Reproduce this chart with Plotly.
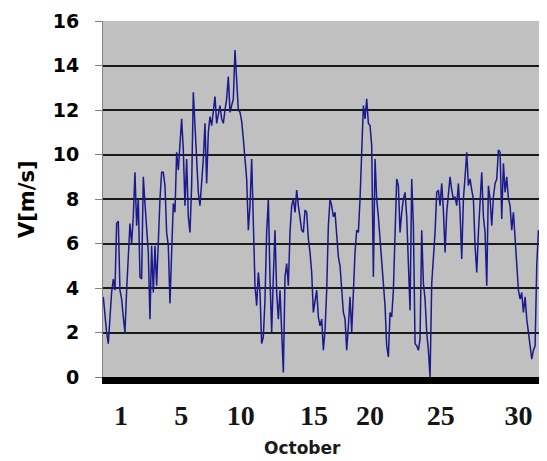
import numpy as np
import plotly.graph_objects as go

# Wind speed readings (m/s), roughly every 2.8 hours through October
speed = [
    3.6, 2.6, 2.0, 1.5, 2.6, 3.8, 4.4, 3.9, 6.9, 7.0,
    3.9, 3.5, 2.7, 2.0, 3.9, 5.3, 6.9, 6.0, 7.2, 9.2,
    6.8, 8.0, 4.5, 4.4, 9.0, 7.8, 6.8, 5.6, 2.6, 5.9,
    3.8, 5.9, 4.1, 6.5, 8.0, 9.2, 9.2, 8.6, 6.5, 5.9,
    3.3, 5.6, 7.8, 7.4, 10.1, 9.3, 10.7, 11.6, 10.2, 7.7,
    9.8, 7.2, 6.5, 8.6, 12.8, 11.3, 9.9, 8.3, 7.7, 8.6,
    9.8, 11.4, 8.7, 11.0, 11.7, 11.3, 12.0, 12.6, 11.4, 11.9,
    12.2, 11.6, 11.4, 12.0, 12.5, 13.5, 11.9, 12.2, 12.5, 14.7,
    13.1, 12.0, 11.9, 11.5,
    10.7, 9.8, 8.9, 6.6, 7.7, 9.8, 6.5, 4.1, 3.2, 4.7,
    3.8, 1.5, 1.8, 3.5, 6.5, 8.0, 4.4, 2.0, 4.5, 6.6,
    3.8, 2.6, 3.9, 2.0, 0.2, 4.5, 5.1, 4.1, 6.5, 7.7,
    8.0, 7.4, 8.4, 7.7, 7.2, 6.6, 6.5, 7.5, 7.4, 6.2,
    5.6, 4.7, 2.9, 3.5, 3.9, 2.7, 2.3, 2.6, 1.2, 2.1,
    3.9, 6.8, 8.0, 7.7, 7.2, 7.4, 6.5, 5.4, 5.0, 4.1,
    2.9, 2.6, 1.2, 2.3, 3.6, 2.0, 4.2, 5.6, 6.6, 6.5,
    8.0, 10.5, 12.2, 11.6, 12.5, 11.4, 11.3, 10.4, 4.5, 9.8,
    8.0, 7.2, 6.2, 5.1, 3.8, 3.2, 1.4, 0.9, 2.9, 2.7,
    3.9, 6.0, 8.9, 8.6, 6.5,
    7.4, 8.0, 8.3, 7.2, 5.1, 3.0, 8.9, 6.8, 1.5, 1.4,
    1.2, 1.7, 6.6, 4.2, 3.5, 2.0, 1.2, 0.0, 4.2, 5.3,
    6.5, 8.3, 8.4, 7.7, 8.7, 7.5, 5.6, 7.4, 8.1, 9.0,
    8.4, 8.0, 8.1, 7.7, 8.7, 7.4, 5.3, 8.0, 9.0, 10.1,
    8.6, 8.9, 8.4, 8.0, 5.9, 4.7, 6.5, 8.0, 9.2, 7.2,
    6.5, 4.1, 8.6, 8.0, 6.8, 8.1, 8.7, 8.9, 10.2, 10.1,
    7.1, 9.6, 8.3, 9.0, 8.0, 7.7, 6.6, 7.4, 6.2, 5.3,
    3.9, 3.5, 3.8, 2.9, 3.6, 2.6, 2.0, 1.5, 0.8, 1.2,
    1.4, 5.0, 6.6,
]
step_hours = 2.8
days = 1 + np.arange(len(speed)) * step_hours / 24.0

x_tick_labels = ["1", "5", "10", "15", "20", "25", "30"]
x_tick_days = [2.24, 6.45, 10.62, 15.75, 19.66, 24.62, 30.05]
y_ticks = [0, 2, 4, 6, 8, 10, 12, 14, 16]

fig = go.Figure()
fig.add_trace(go.Scatter(
    x=days, y=speed, mode="lines",
    line=dict(color="#1a1a8c", width=1.5),
    showlegend=False, hoverinfo="skip",
))

fig.update_layout(
    width=539, height=453,
    margin=dict(l=95, r=0, t=13, b=84),
    paper_bgcolor="white",
    plot_bgcolor="#c0c0c0",
    xaxis=dict(
        range=[0.98, 32.05],
        tickvals=x_tick_days, ticktext=x_tick_labels,
        showgrid=False, zeroline=False,
        showline=True, linecolor="black", linewidth=7,
        ticks="", ticklabelstandoff=7,
        tickfont=dict(family="Liberation Serif", size=28, color="#151515", weight="bold"),
    ),
    yaxis=dict(
        range=[0, 16],
        tickvals=y_ticks,
        showgrid=True, gridcolor="#1a1a1a", gridwidth=1.6,
        zeroline=False,
        showline=True, linecolor="#808080", linewidth=1,
        ticks="outside", ticklen=7, tickcolor="#808080", tickwidth=1,
        ticklabelstandoff=12,
        tickfont=dict(family="DejaVu Sans", size=19, color="black", weight="bold"),
    ),
    annotations=[
        dict(text="<b>October</b>", xref="paper", yref="paper",
             x=(302 - 103) / 444, y=-(448 - 377) / 356,
             xanchor="center", yanchor="middle", showarrow=False,
             font=dict(family="DejaVu Sans", size=17, color="#1a1a1a")),
        dict(text="<b>V[m/s]</b>", xref="paper", yref="paper",
             x=(27 - 103) / 444, y=0.5, textangle=-90,
             xanchor="center", yanchor="middle", showarrow=False,
             font=dict(family="DejaVu Sans", size=21, color="black")),
    ],
)

fig.write_html("out.html")
